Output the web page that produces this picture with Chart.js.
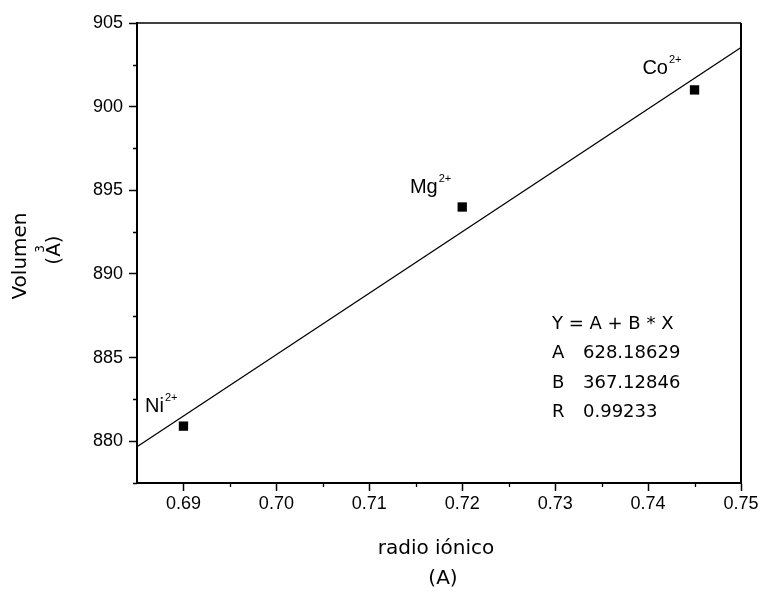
<!DOCTYPE html>
<html>
<head>
<meta charset="utf-8">
<script src="https://cdn.jsdelivr.net/npm/chart.js@4.4.1/dist/chart.umd.min.js"></script>
<style>
  html, body { margin: 0; padding: 0; background: #fff; }
  #wrap { width: 762px; height: 593px; }
</style>
</head>
<body>
<div id="wrap"><canvas id="c" width="762" height="593"></canvas></div>
<script>
// Ionic radius (Å) and cell volume (Å³) for each substituted cation
const iones = ['Ni', 'Mg', 'Co'];
const radios = [0.690, 0.720, 0.745];
const volumenes = [880.9, 894.0, 901.0];

// Linear fit Y = A + B * X
const ajusteA = 628.18629;
const ajusteB = 367.12846;
const ajusteR = 0.99233;

// Axis ranges and tick values
const xRango = [0.685, 0.75];
const yRango = [877.5, 905];
const xTicks = [0.69, 0.70, 0.71, 0.72, 0.73, 0.74, 0.75];
const yTicks = [880, 885, 890, 895, 900, 905];
const xMenores = [0.695, 0.705, 0.715, 0.725, 0.735, 0.745];
const yMenores = [877.5, 882.5, 887.5, 892.5, 897.5, 902.5];

const puntos = radios.map((r, i) => ({ x: r, y: volumenes[i] }));
const recta = xRango.map(x => ({ x: x, y: ajusteA + ajusteB * x }));

const SANS = '"Liberation Sans", Arial, sans-serif';
const HUM = '"DejaVu Sans", Verdana, sans-serif';

// label placement relative to each point (right end of the superscript)
const etiquetaDx = { Ni: -6, Mg: -11, Co: -13 };
const etiquetaDy = { Ni: -14, Mg: -14, Co: -16 };

const marco = {
  id: 'marco',
  afterDraw(chart) {
    const { ctx, chartArea: a, scales } = chart;
    const xs = scales.x, ys = scales.y;
    ctx.save();
    ctx.strokeStyle = '#000';
    // frame: top and right edges
    ctx.lineWidth = 1.6;
    ctx.beginPath();
    ctx.moveTo(a.left, a.top); ctx.lineTo(a.right, a.top);
    ctx.stroke();
    ctx.lineWidth = 2;
    ctx.beginPath();
    ctx.moveTo(a.right, a.top); ctx.lineTo(a.right, a.bottom);
    ctx.stroke();
    // minor ticks
    ctx.lineWidth = 1.3;
    ctx.beginPath();
    xMenores.forEach(v => {
      const px = Math.round(xs.getPixelForValue(v)) + 0.5;
      ctx.moveTo(px, a.bottom); ctx.lineTo(px, a.bottom + 4);
    });
    yMenores.forEach(v => {
      const py = Math.round(ys.getPixelForValue(v)) + 0.5;
      ctx.moveTo(a.left, py); ctx.lineTo(a.left - 4, py);
    });
    ctx.stroke();

    ctx.fillStyle = '#000';
    // ion labels with charge superscripts
    puntos.forEach((p, i) => {
      const name = iones[i];
      const px = xs.getPixelForValue(p.x) + etiquetaDx[name];
      const py = ys.getPixelForValue(p.y) + etiquetaDy[name];
      ctx.textBaseline = 'alphabetic';
      ctx.textAlign = 'right';
      ctx.font = '11px ' + SANS;
      const supW = ctx.measureText('2+').width;
      ctx.fillText('2+', px, py - 11);
      ctx.font = '20px ' + SANS;
      ctx.fillText(name, px - supW - 1, py);
    });

    // fit parameters
    const fx = a.left + 415, fy = a.top + 301;
    ctx.textAlign = 'left';
    ctx.textBaseline = 'middle';
    ctx.font = '18px ' + HUM;
    ctx.fillText('Y = A + B * X', fx, fy);
    const filas = [['A', ajusteA.toFixed(5)], ['B', ajusteB.toFixed(5)], ['R', ajusteR.toFixed(5)]];
    filas.forEach((f, i) => {
      const yy = fy + 29.6 * (i + 1);
      ctx.fillText(f[0], fx, yy);
      ctx.fillText(f[1], fx + 31, yy);
    });

    // axis titles
    ctx.textAlign = 'center';
    ctx.font = '20px ' + HUM;
    ctx.fillText('radio iónico', (a.left + a.right) / 2 - 3, 549);
    ctx.fillText('(A)', (a.left + a.right) / 2 + 4, 579);

    ctx.save();
    ctx.translate(21, 256);
    ctx.rotate(-Math.PI / 2);
    ctx.fillText('Volumen', 0, 0);
    ctx.restore();

    ctx.save();
    ctx.translate(55, 250);
    ctx.rotate(-Math.PI / 2);
    ctx.fillText('(A)', 0, 0);
    ctx.font = '12px ' + HUM;
    ctx.fillText('3', 1, -14);
    ctx.restore();

    ctx.restore();
  }
};

new Chart(document.getElementById('c'), {
  type: 'scatter',
  data: {
    datasets: [
      {
        label: 'ajuste',
        data: recta,
        showLine: true,
        borderColor: '#000',
        borderWidth: 1.3,
        pointRadius: 0,
        fill: false
      },
      {
        label: 'datos',
        data: puntos,
        pointStyle: 'rect',
        pointRadius: 6.6,
        pointBackgroundColor: '#000',
        pointBorderWidth: 0,
        showLine: false
      }
    ]
  },
  options: {
    responsive: false,
    animation: false,
    devicePixelRatio: 1,
    layout: { padding: { left: 0, right: 21, top: 23, bottom: 0 } },
    plugins: { legend: { display: false }, tooltip: { enabled: false } },
    scales: {
      x: {
        type: 'linear',
        min: xRango[0], max: xRango[1],
        afterBuildTicks: s => { s.ticks = xTicks.map(v => ({ value: v })); },
        afterFit: s => { s.height = 110; },
        grid: { drawOnChartArea: false, drawTicks: true, tickLength: 8, tickWidth: 1.5, tickColor: '#000' },
        border: { display: true, color: '#000', width: 2 },
        ticks: {
          color: '#000', padding: 2, maxRotation: 0, autoSkip: false,
          font: { family: SANS, size: 18 },
          callback: v => Number(v).toFixed(2)
        }
      },
      y: {
        type: 'linear',
        min: yRango[0], max: yRango[1],
        afterBuildTicks: s => { s.ticks = yTicks.map(v => ({ value: v })); },
        afterFit: s => { s.width = 137; },
        grid: { drawOnChartArea: false, drawTicks: true, tickLength: 8, tickWidth: 1.5, tickColor: '#000' },
        border: { display: true, color: '#000', width: 2 },
        ticks: {
          color: '#000', padding: 6, autoSkip: false,
          font: { family: SANS, size: 18 },
          callback: v => String(v)
        }
      }
    }
  },
  plugins: [marco]
});
</script>
</body>
</html>
